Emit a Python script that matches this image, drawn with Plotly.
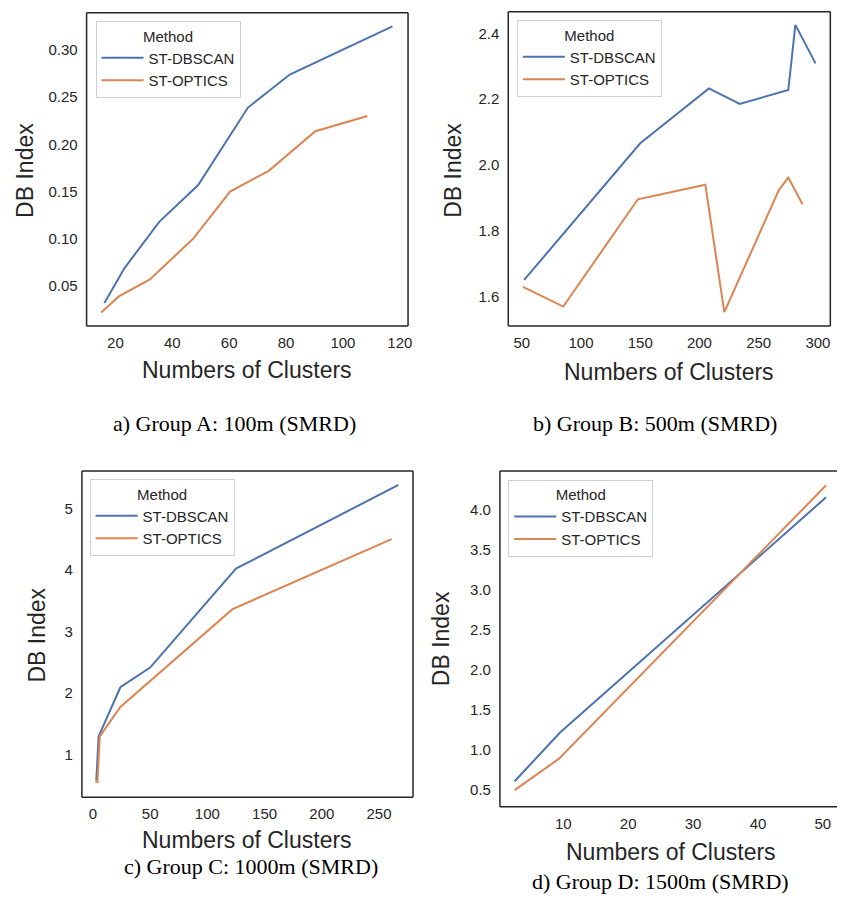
import plotly.graph_objects as go

# ---------------- data ----------------
methods = ["ST-DBSCAN", "ST-OPTICS"]

A_dbscan_x = [16.1, 23.2, 35.4, 49.1, 66.6, 81.3, 117.4]
A_dbscan_y = [0.032, 0.069, 0.118, 0.157, 0.239, 0.274, 0.325]
A_optics_x = [15.0, 21.2, 32.1, 47.3, 60.3, 73.9, 90.3, 108.6]
A_optics_y = [0.022, 0.039, 0.057, 0.100, 0.150, 0.172, 0.214, 0.230]

B_dbscan_x = [52, 150, 208, 234, 275, 281, 298]
B_dbscan_y = [1.651, 2.066, 2.233, 2.186, 2.228, 2.426, 2.309]
B_optics_x = [51, 85, 148, 205, 221, 267, 275, 287]
B_optics_y = [1.630, 1.570, 1.896, 1.940, 1.553, 1.924, 1.962, 1.881]

C_dbscan_x = [3, 5, 24, 50, 125, 267]
C_dbscan_y = [0.58, 1.29, 2.09, 2.41, 4.02, 5.38]
C_optics_x = [2, 4, 6, 24, 122, 261]
C_optics_y = [0.56, 0.55, 1.29, 1.77, 3.36, 4.50]

D_dbscan_x = [2.5, 9.5, 50.5]
D_dbscan_y = [0.60, 1.21, 4.15]
D_optics_x = [2.5, 9.3, 50.5]
D_optics_y = [0.49, 0.88, 4.30]

A_xticks = [20, 40, 60, 80, 100, 120]
A_yticks = [0.05, 0.10, 0.15, 0.20, 0.25, 0.30]
B_xticks = [50, 100, 150, 200, 250, 300]
B_yticks = [1.6, 1.8, 2.0, 2.2, 2.4]
C_xticks = [0, 50, 100, 150, 200, 250]
C_yticks = [1, 2, 3, 4, 5]
D_xticks = [10, 20, 30, 40, 50]
D_yticks = [0.5, 1.0, 1.5, 2.0, 2.5, 3.0, 3.5, 4.0]

captions = ["a) Group A: 100m (SMRD)", "b) Group B: 500m (SMRD)",
            "c) Group C: 1000m (SMRD)", "d) Group D: 1500m (SMRD)"]
x_title = "Numbers of Clusters"
y_title = "DB Index"
legend_title = "Method"

# ---------------- layout helpers ----------------
W, H = 841, 911
def fx(p): return p / W
def fy(p): return 1 - p / H

BLUE = "#4c72b0"
ORANGE = "#dd8452"
DARK = "#262626"
SANS = "Liberation Sans, Arial, sans-serif"
SERIF = "Liberation Serif, Times New Roman, serif"

panels = [
    dict(sx=(A_dbscan_x, A_dbscan_y, A_optics_x, A_optics_y),
         xdom=(87, 410), ydom=(12.7, 326), xr=[9.85, 122.9], yr=[0.00763, 0.3395],
         xt=A_xticks, yt=A_yticks, yfmt=".2f", leg=(96, 21),
         xtit=(248, 370), ytit=(25, 170), cap=(235.5, 423), right=True),
    dict(sx=(B_dbscan_x, B_dbscan_y, B_optics_x, B_optics_y),
         xdom=(510.7, 834.3), ydom=(11.7, 326), xr=[38.6, 310.5], yr=[1.511, 2.466],
         xt=B_xticks, yt=B_yticks, yfmt=".1f", leg=(519.3, 20),
         xtit=(672, 371.7), ytit=(455, 170), cap=(658.3, 423), right=True),
    dict(sx=(C_dbscan_x, C_dbscan_y, C_optics_x, C_optics_y),
         xdom=(82.3, 415), ydom=(471, 797.3), xr=[-9.6, 279.7], yr=[0.30, 5.607],
         xt=C_xticks, yt=C_yticks, yfmt="d", leg=(90, 479),
         xtit=(248, 840), ytit=(36.7, 635), cap=(252.3, 866.7), right=True),
    dict(sx=(D_dbscan_x, D_dbscan_y, D_optics_x, D_optics_y),
         xdom=(502.3, 841), ydom=(471, 806.7), xr=[0.23, 52.18], yr=[0.2825, 4.479],
         xt=D_xticks, yt=D_yticks, yfmt=".1f", leg=(510.7, 479.7),
         xtit=(674, 851.7), ytit=(443.3, 639), cap=(663.3, 881.7), right=False),
]

fig = go.Figure()
layout = dict(width=W, height=H, margin=dict(l=0, r=0, t=0, b=0), autosize=False,
              paper_bgcolor="white", plot_bgcolor="white",
              font=dict(family=SANS, color=DARK, size=15))
annotations = []
shapes = []

for i, p in enumerate(panels):
    n = "" if i == 0 else str(i + 1)
    xa, ya = "x" + n, "y" + n
    lg = "legend" + n
    dx, dy, ox, oy = p["sx"]
    fig.add_trace(go.Scatter(x=dx, y=dy, mode="lines", name=methods[0],
                             line=dict(color=BLUE, width=2), xaxis=xa, yaxis=ya, legend=lg))
    fig.add_trace(go.Scatter(x=ox, y=oy, mode="lines", name=methods[1],
                             line=dict(color=ORANGE, width=2), xaxis=xa, yaxis=ya, legend=lg))
    layout["xaxis" + n] = dict(domain=[fx(p["xdom"][0]), fx(p["xdom"][1])], anchor=ya,
                               range=p["xr"], tickvals=p["xt"], showgrid=False, zeroline=False,
                               showline=False, ticks="", ticklabelstandoff=6,
                               tickfont=dict(size=15, color=DARK, family=SANS))
    layout["yaxis" + n] = dict(domain=[fy(p["ydom"][1]), fy(p["ydom"][0])], anchor=xa,
                               range=p["yr"], tickvals=p["yt"], tickformat=p["yfmt"],
                               showgrid=False, zeroline=False, showline=False, ticks="",
                               ticklabelstandoff=8,
                               tickfont=dict(size=15, color=DARK, family=SANS))
    layout[lg] = dict(x=fx(p["leg"][0]), y=fy(p["leg"][1]), xanchor="left", yanchor="top",
                      xref="paper", yref="paper",
                      bgcolor="white", bordercolor="#d0d0d0", borderwidth=1,
                      itemwidth=42,
                      font=dict(size=15, color=DARK, family=SANS),
                      title=dict(text=legend_title, side="top center",
                                 font=dict(size=15, color=DARK, family=SANS)),
                      tracegroupgap=0)
    # frame
    xr_, yr_ = xa + " domain", ya + " domain"
    lw = dict(color=DARK, width=1.5)
    segs = [(0, 0, 0, 1), (0, 1, 1, 1), (0, 0, 1, 0)]
    if p["right"]:
        segs.append((1, 0, 1, 1))
    for x0, y0, x1, y1 in segs:
        shapes.append(dict(type="line", xref=xr_, yref=yr_, x0=x0, y0=y0, x1=x1, y1=y1,
                           line=lw, layer="above"))
    annotations.append(dict(text=x_title, x=fx(p["xtit"][0]), y=fy(p["xtit"][1]),
                            xref="paper", yref="paper", showarrow=False,
                            xanchor="center", yanchor="middle",
                            font=dict(size=23, color=DARK, family=SANS)))
    annotations.append(dict(text=y_title, x=fx(p["ytit"][0]), y=fy(p["ytit"][1]),
                            xref="paper", yref="paper", showarrow=False, textangle=-90,
                            xanchor="center", yanchor="middle",
                            font=dict(size=23, color=DARK, family=SANS)))
    annotations.append(dict(text=captions[i], x=fx(p["cap"][0]), y=fy(p["cap"][1]),
                            xref="paper", yref="paper", showarrow=False,
                            xanchor="center", yanchor="middle",
                            font=dict(size=22, color="black", family=SERIF)))

layout["annotations"] = annotations
layout["shapes"] = shapes
layout["showlegend"] = True
fig.update_layout(**layout)

fig.write_html("out.html", config={"displayModeBar": False},
               post_script="document.body.style.margin='0';document.body.style.overflow='hidden';")
